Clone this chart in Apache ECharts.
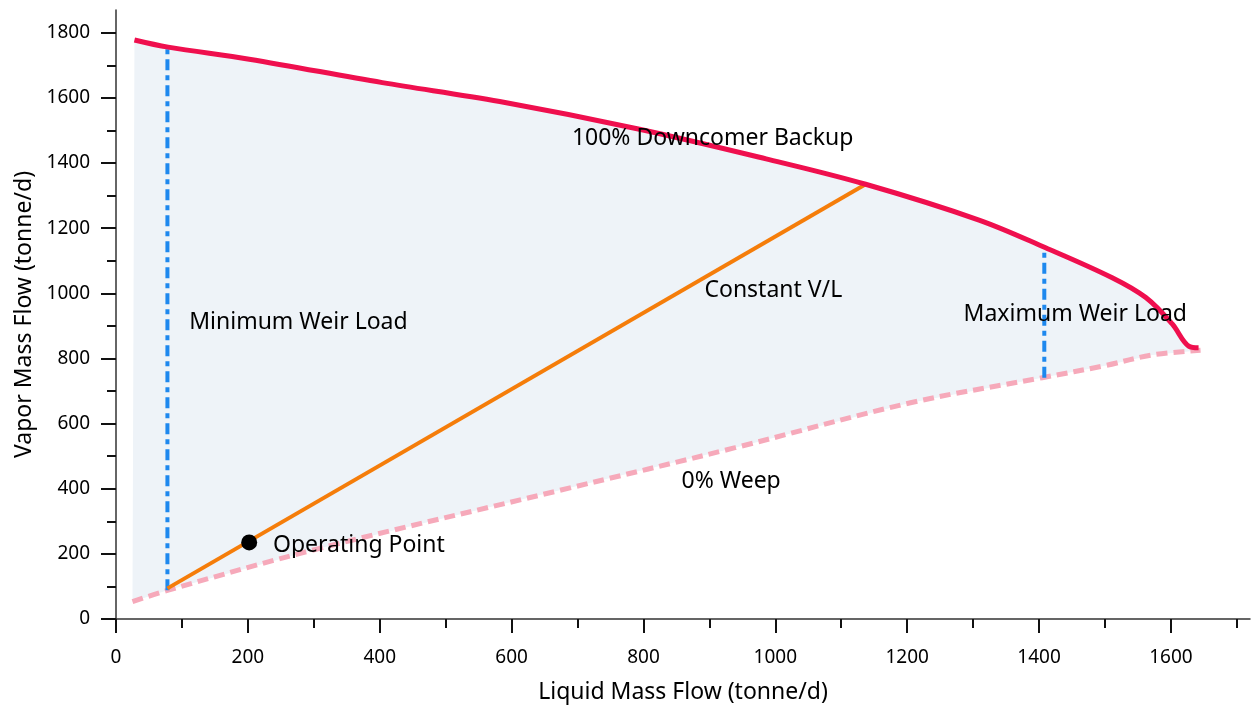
<!DOCTYPE html>
<html>
<head>
<meta charset="utf-8">
<script src="https://cdn.jsdelivr.net/npm/echarts@6/dist/echarts.min.js"></script>
<style>html,body{margin:0;padding:0;background:#fff;}#c{width:1252px;height:715px;}</style>
</head>
<body>
<div id="c"></div>
<script>
// ---- data ----
const downcomerX = [28, 79, 202, 404, 582, 794, 986, 1137, 1309, 1410, 1511, 1562, 1602, 1627, 1642];
const downcomerY = [1778, 1756, 1719, 1647, 1589, 1504, 1413, 1335, 1225, 1140, 1048, 987, 906, 838, 833];
const weepX = [25, 78, 303, 673, 939, 1205, 1405, 1500, 1572, 1645];
const weepY = [53, 88, 214, 395, 526, 664, 741, 778, 811, 825];
const minWeirX = [78, 78];
const minWeirY = [88, 1756];
const maxWeirX = [1408, 1408];
const maxWeirY = [741, 1140];
const vlX = [78, 1137];
const vlY = [94, 1335];
const opPoint = [202, 235];
const xMajorTicks = [0, 200, 400, 600, 800, 1000, 1200, 1400, 1600];
const xMinorTicks = [100, 300, 500, 700, 900, 1100, 1300, 1500, 1700];
const yMajorTicks = [0, 200, 400, 600, 800, 1000, 1200, 1400, 1600, 1800];
const yMinorTicks = [100, 300, 500, 700, 900, 1100, 1300, 1500, 1700];
const labelTexts = ['100% Downcomer Backup', 'Constant V/L', 'Minimum Weir Load', 'Maximum Weir Load', '0% Weep', 'Operating Point'];
const labelX = [905, 997, 111, 1455, 933, 238];
const labelY = [1477, 1010, 912, 934, 421, 226];
const labelAlign = ['center', 'center', 'left', 'center', 'center', 'left'];
const xName = 'Liquid Mass Flow (tonne/d)';
const yName = 'Vapor Mass Flow (tonne/d)';

// ---- build ----
const zip = (xs, ys) => xs.map((x, i) => [x, ys[i]]);
const polygon = zip(downcomerX, downcomerY).concat(zip(weepX, weepY).reverse());
const FONT = 'Noto Sans';
const plain = v => String(v);

const axisBase = {
  type: 'value', min: 0, splitLine: { show: false },
};

const option = {
  animation: false,
  backgroundColor: '#ffffff',
  grid: { left: 116, right: 2, top: 10, bottom: 96, containLabel: false },
  xAxis: [
    Object.assign({}, axisBase, {
      max: 1720, position: 'bottom',
      name: xName, nameLocation: 'middle', nameGap: 62,
      nameTextStyle: { fontFamily: FONT, fontSize: 23, color: '#000' },
      axisLine: { show: true, onZero: false, lineStyle: { color: '#333', width: 1.5 } },
      axisTick: { show: true, customValues: xMajorTicks, length: 14, lineStyle: { color: '#111', width: 2 } },
      axisLabel: { customValues: xMajorTicks, formatter: plain, margin: 29, fontFamily: FONT, fontSize: 19, color: '#000' },
    }),
    Object.assign({}, axisBase, {
      max: 1720, position: 'bottom',
      axisLine: { show: false, onZero: false },
      axisTick: { show: true, customValues: xMinorTicks, length: 9, lineStyle: { color: '#111', width: 2 } },
      axisLabel: { show: false },
    }),
  ],
  yAxis: [
    Object.assign({}, axisBase, {
      max: 1870, position: 'left',
      name: yName, nameLocation: 'middle', nameGap: 80,
      nameTextStyle: { fontFamily: FONT, fontSize: 23, color: '#000' },
      axisLine: { show: true, onZero: false, lineStyle: { color: '#333', width: 1.5 } },
      axisTick: { show: true, customValues: yMajorTicks, length: 15, lineStyle: { color: '#111', width: 2 } },
      axisLabel: { customValues: yMajorTicks, formatter: plain, margin: 26, fontFamily: FONT, fontSize: 19, color: '#000' },
    }),
    Object.assign({}, axisBase, {
      max: 1870, position: 'left',
      axisLine: { show: false, onZero: false },
      axisTick: { show: true, customValues: yMinorTicks, length: 9, lineStyle: { color: '#111', width: 2 } },
      axisLabel: { show: false },
    }),
  ],
  series: [
    {
      type: 'custom', name: 'region', silent: true, z: 1,
      data: [0],
      renderItem: function (params, api) {
        const pts = polygon.map(p => api.coord(p));
        return { type: 'polygon', shape: { points: pts, smooth: 0 }, style: { fill: '#EEF3F8' } };
      }
    },
    {
      type: 'line', name: '0% Weep', data: zip(weepX, weepY), smooth: 0.35, showSymbol: false, z: 3,
      lineStyle: { color: '#F6A9BA', width: 5, type: [11, 6] }
    },
    {
      type: 'line', name: '100% Downcomer Backup', data: zip(downcomerX, downcomerY), smooth: 0.35, showSymbol: false, z: 4,
      lineStyle: { color: '#EF0F4E', width: 5 }
    },
    {
      type: 'line', name: 'Minimum Weir Load', data: zip(minWeirX, minWeirY), showSymbol: false, z: 3,
      lineStyle: { color: '#1E88EE', width: 4, type: [11, 5, 5, 5] }
    },
    {
      type: 'line', name: 'Maximum Weir Load', data: zip(maxWeirX, maxWeirY), showSymbol: false, z: 3,
      lineStyle: { color: '#1E88EE', width: 4, type: [11, 5, 5, 5] }
    },
    {
      type: 'line', name: 'Constant V/L', data: zip(vlX, vlY), showSymbol: false, z: 3,
      lineStyle: { color: '#F57D0A', width: 4 }
    },
    {
      type: 'scatter', name: 'Operating Point', data: [opPoint], symbolSize: 16, z: 5,
      itemStyle: { color: '#000', opacity: 1 }
    },
    {
      type: 'scatter', name: 'labels', z: 6, symbolSize: 0, silent: true,
      data: labelTexts.map((t, i) => ({
        value: [labelX[i], labelY[i]],
        label: { show: true, formatter: t, position: 'inside', align: labelAlign[i], verticalAlign: 'middle',
                 fontFamily: FONT, fontSize: 23, color: '#000', opacity: 1 }
      }))
    }
  ]
};

const chart = echarts.init(document.getElementById('c'), null, { renderer: 'canvas' });
chart.setOption(option);
</script>
</body>
</html>
